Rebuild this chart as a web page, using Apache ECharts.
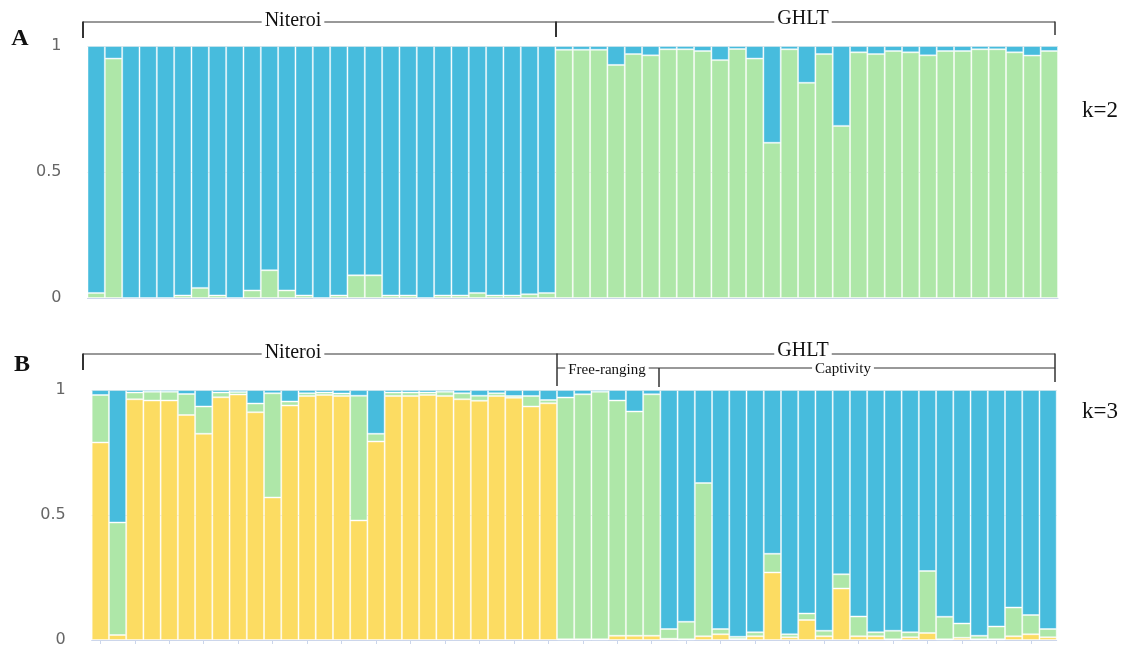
<!DOCTYPE html>
<html>
<head>
<meta charset="utf-8">
<script src="https://cdn.jsdelivr.net/npm/echarts@6/dist/echarts.min.js"></script>
<style>
html,body{margin:0;padding:0;background:#fff;}
#chart{width:1124px;height:648px;}
</style>
</head>
<body>
<div id="chart"></div>
<script>
// ---- data ----
const nNiteroi = 27, nGHLT = 29;
const individuals = [];
for (let i = 1; i <= nNiteroi; i++) individuals.push('N' + i);
for (let i = 1; i <= nGHLT; i++) individuals.push('G' + i);

// Panel A, k=2: cluster membership (green = cluster 1, blue = cluster 2)
const kA_green = [
  0.02,0.95,0,0,0,0.01,0.04,0.01,0,0.03,0.11,0.03,0.01,0,0.01,0.09,0.09,0.01,0.01,0,0.01,0.01,0.02,0.01,0.01,0.015,0.02,
  0.985,0.985,0.985,0.925,0.968,0.963,0.987,0.987,0.98,0.944,0.988,0.95,0.616,0.987,0.854,0.968,0.683,0.975,0.968,0.98,0.975,0.963,0.98,0.98,0.987,0.987,0.975,0.962,0.98
];
const kA_blue = [
  0.98,0.05,1,1,1,0.99,0.96,0.99,1,0.97,0.89,0.97,0.99,1,0.99,0.91,0.91,0.99,0.99,1,0.99,0.99,0.98,0.99,0.99,0.985,0.98,
  0.015,0.015,0.015,0.075,0.032,0.037,0.013,0.013,0.02,0.056,0.012,0.05,0.384,0.013,0.146,0.032,0.317,0.025,0.032,0.02,0.025,0.037,0.02,0.02,0.013,0.013,0.025,0.038,0.02
];

// Panel B, k=3
const kB_yellow = [
  0.79,0.02,0.963,0.958,0.958,0.90,0.825,0.971,0.982,0.911,0.57,0.938,0.976,0.98,0.976,0.478,0.794,0.976,0.976,0.98,0.976,0.963,0.957,0.976,0.969,0.934,0.947,
  0.003,0.003,0.003,0.017,0.017,0.017,
  0.005,0.003,0.015,0.023,0.004,0.015,0.27,0.011,0.08,0.015,0.206,0.015,0.015,0.003,0.011,0.028,0.003,0.009,0.003,0.003,0.015,0.023,0.011
];
const kB_green = [
  0.19,0.45,0.027,0.035,0.035,0.084,0.109,0.019,0.01,0.035,0.417,0.016,0.011,0.01,0.01,0.499,0.031,0.014,0.014,0.01,0.017,0.024,0.02,0.011,0.007,0.042,0.013,
  0.967,0.98,0.99,0.941,0.897,0.966,
  0.039,0.07,0.613,0.021,0.009,0.016,0.075,0.012,0.026,0.022,0.057,0.079,0.016,0.034,0.02,0.248,0.09,0.057,0.014,0.051,0.115,0.077,0.033
];
const kB_blue = [
  0.02,0.53,0.01,0.007,0.007,0.016,0.066,0.01,0.008,0.054,0.013,0.046,0.013,0.01,0.014,0.023,0.175,0.01,0.01,0.01,0.007,0.013,0.023,0.013,0.024,0.024,0.04,
  0.03,0.017,0.007,0.042,0.086,0.017,
  0.956,0.927,0.372,0.956,0.987,0.969,0.655,0.977,0.894,0.963,0.737,0.906,0.969,0.963,0.969,0.724,0.907,0.934,0.983,0.946,0.87,0.9,0.956
];
const yTicks = [0, 0.5, 1];

// ---- styles ----
const C_BLUE = '#47BCDD', C_GREEN = '#AEE7A8', C_YELLOW = '#FCDC62';
const barStyle = c => ({ color: c, borderColor: 'rgba(255,255,255,0.42)', borderWidth: 1 });
const serif = 'Liberation Serif';

const chart = echarts.init(document.getElementById('chart'), null, { renderer: 'canvas' });

function yAxis(gi) {
  return {
    type: 'value', gridIndex: gi, min: yTicks[0], max: yTicks[yTicks.length - 1], interval: yTicks[1] - yTicks[0],
    axisLine: { show: false }, axisTick: { show: false },
    axisLabel: { color: '#666', fontSize: 16, fontFamily: 'DejaVu Sans', margin: 26 },
    splitLine: { lineStyle: { color: '#E0E0E0', width: 1 } }
  };
}
function xAxis(gi, ticks) {
  return {
    type: 'category', gridIndex: gi, data: individuals,
    axisLine: { lineStyle: { color: '#CCD6EB', width: 1 } },
    axisTick: { show: ticks, alignWithLabel: true, interval: 1, length: 4, lineStyle: { color: '#CCD6EB' } },
    axisLabel: { show: false }
  };
}

function line(x1, y1, x2, y2, w) {
  return { type: 'line', shape: { x1, y1, x2, y2 }, style: { stroke: '#333', lineWidth: w || 1 }, z: 10 };
}
function label(text, x, y, size, bold, bg) {
  return {
    type: 'text', x, y, z: 11,
    style: {
      text, x: 0, y: 0, fill: '#111', font: (bold ? 'bold ' : '') + size + 'px "' + serif + '"',
      align: 'center', verticalAlign: 'middle',
      backgroundColor: bg === false ? null : '#fff', padding: bg === false ? 0 : [0, 3]
    }
  };
}

const option = {
  animation: false,
  backgroundColor: '#fff',
  grid: [
    { left: 87.5, right: 66, top: 46, height: 252 },
    { left: 91.7, right: 67.3, top: 390, height: 251 }
  ],
  xAxis: [xAxis(0, false), xAxis(1, true)],
  yAxis: [yAxis(0), yAxis(1)],
  series: [
    { name: 'A-green', type: 'bar', xAxisIndex: 0, yAxisIndex: 0, stack: 'A', data: kA_green, barCategoryGap: '0%', itemStyle: barStyle(C_GREEN) },
    { name: 'A-blue', type: 'bar', xAxisIndex: 0, yAxisIndex: 0, stack: 'A', data: kA_blue, barCategoryGap: '0%', itemStyle: barStyle(C_BLUE) },
    { name: 'B-yellow', type: 'bar', xAxisIndex: 1, yAxisIndex: 1, stack: 'B', data: kB_yellow, barCategoryGap: '0%', itemStyle: barStyle(C_YELLOW) },
    { name: 'B-green', type: 'bar', xAxisIndex: 1, yAxisIndex: 1, stack: 'B', data: kB_green, barCategoryGap: '0%', itemStyle: barStyle(C_GREEN) },
    { name: 'B-blue', type: 'bar', xAxisIndex: 1, yAxisIndex: 1, stack: 'B', data: kB_blue, barCategoryGap: '0%', itemStyle: barStyle(C_BLUE) }
  ],
  graphic: [
    // Panel A brackets
    line(83, 22, 1055, 22, 1),
    line(83, 21.5, 83, 38, 2),
    line(556, 21.5, 556, 37, 2),
    line(1055, 21.5, 1055, 35, 1.5),
    label('Niteroi', 293, 21, 20),
    label('GHLT', 803, 19, 20),
    label('A', 20, 39, 24, true, false),
    label('k=2', 1100, 111, 23, false, false),
    // Panel B brackets
    line(83, 354, 1055, 354, 1),
    line(83, 353.5, 83, 370, 2),
    line(557, 353.5, 557, 386, 1.5),
    line(557, 368, 1055, 368, 1),
    line(659, 368, 659, 387, 1.5),
    line(1055, 353.5, 1055, 382, 1.5),
    label('Niteroi', 293, 353, 20),
    label('GHLT', 803, 351, 20),
    label('Free-ranging', 607, 370, 15),
    label('Captivity', 843, 369, 15),
    label('B', 22, 365, 24, true, false),
    label('k=3', 1100, 412, 23, false, false)
  ]
};
chart.setOption(option);
</script>
</body>
</html>
